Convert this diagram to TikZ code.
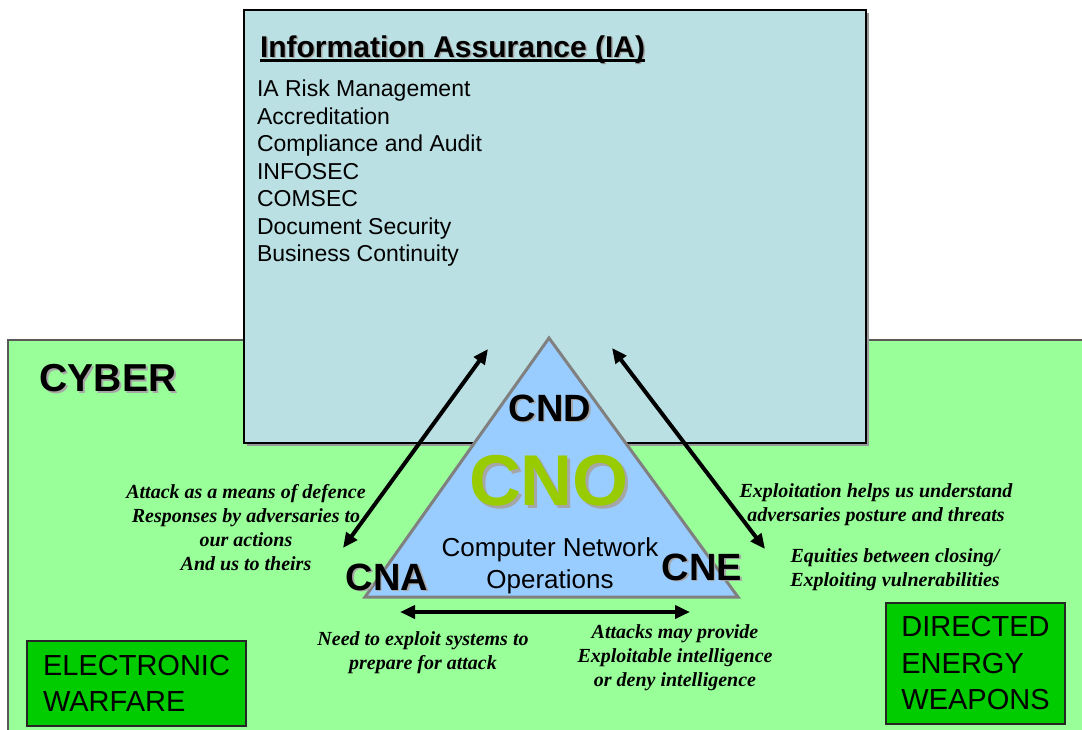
\documentclass[tikz,border=0pt]{standalone}
\usepackage{fontspec}
\setmainfont{Liberation Sans}
\newfontfamily\notefont{Liberation Serif}
\usetikzlibrary{arrows.meta}
\definecolor{cybergreen}{HTML}{99FF99}
\definecolor{iablue}{HTML}{BBE0E3}
\definecolor{cnoblue}{HTML}{99CCFF}
\definecolor{cnogreen}{HTML}{99CC00}
\definecolor{fieldgreen}{HTML}{00CC00}
\newcommand{\shadowed}[2][2pt]{\makebox[0pt][l]{\kern#1\raisebox{-#1}{\textcolor{black!35}{#2}}}#2}
\tikzset{
  every node/.style={inner sep=0pt, outer sep=0pt},
  heading/.style={font=\bfseries\fontsize{38}{38}\selectfont},
  note/.style={font=\notefont\bfseries\itshape\fontsize{20}{24}\selectfont, align=center, anchor=north},
  field/.style={draw=black!85, line width=1.5pt, fill=fieldgreen, align=left,
    font=\fontsize{29}{36.5}\selectfont},
  link/.style={line width=4pt, {Triangle[length=15pt,width=13pt]}-{Triangle[length=15pt,width=13pt]}}
}

\begin{document}
\begin{tikzpicture}[x=1pt, y=-1pt]
  \useasboundingbox (0,0) rectangle (1082,729);
  \draw[draw=black!65, line width=2pt, fill=cybergreen] (8,340) rectangle (1092,739);
  \fill[black!40] (247,13) rectangle (869,446);
  \draw[line width=1.5pt, fill=iablue] (244,10) rectangle (866,443);

  \node (ia) [anchor=base west, font=\bfseries\fontsize{30}{30}\selectfont] at (260,57) {\shadowed[1.5pt]{Information Assurance (IA)}};
  \draw[line width=2.5pt] ([yshift=-3.5pt]ia.base west) -- ([yshift=-3.5pt]ia.base east);
  \node (ialist) [anchor=north west, align=left, font=\fontsize{23}{27.5}\selectfont] at (257,80) {IA Risk Management\\Accreditation\\Compliance and Audit\\INFOSEC\\COMSEC\\Document Security\\Business Continuity};

  \node (cyber) [font=\bfseries\fontsize{39}{39}\selectfont] at (108,379) {\shadowed{CYBER}};

  \coordinate (apex) at (549,338);
  \coordinate (baseL) at (365,597);
  \coordinate (baseR) at (738,597);
  \draw[draw=black!50, line width=3pt, fill=cnoblue] (apex) -- (baseL) -- (baseR) -- cycle;

  \node (cnd) [heading] at (550,409) {\shadowed[1.5pt]{CND}};
  \node (cno) [font=\bfseries\fontsize{72}{72}\selectfont, text=cnogreen] at (549,482) {\shadowed[3pt]{CNO}};
  \node (cnolong) [align=center, font=\fontsize{26}{32}\selectfont] at (550,566) {Computer Network\\Operations};
  \node (cna) [heading] at (387,578) {\shadowed[1.5pt]{CNA}};
  \node (cne) [heading] at (702,568) {\shadowed[1.5pt]{CNE}};

  \coordinate (cnaEnd) at (343,548);
  \coordinate (iaLeft) at (488,349);
  \coordinate (iaRight) at (612,348);
  \coordinate (cneEnd) at (765,549);
  \coordinate (attackEnd) at (400,612);
  \coordinate (exploitEnd) at (690,612);
  \draw (cnaEnd) edge[link] (iaLeft);
  \draw (iaRight) edge[link] (cneEnd);
  \draw (attackEnd) edge[link] (exploitEnd);

  \node (defence) [note] at (246,484) {Attack as a means of defence\\Responses by adversaries to\\our actions\\And us to theirs};
  \node (posture) [note] at (876,484) {Exploitation helps us understand\\adversaries posture and threats};
  \node (equities) [note] at (895,549) {Equities between closing/\\Exploiting vulnerabilities};
  \node (prepare) [note] at (423,632) {Need to exploit systems to\\prepare for attack};
  \node (intel) [note] at (675,625) {Attacks may provide\\Exploitable intelligence\\or deny intelligence};

  \node (ew) [field, minimum width=219pt, minimum height=85pt] at (136.5,683.5) {ELECTRONIC\\WARFARE};
  \node (dew) [field, minimum width=179pt, minimum height=121pt] at (975.5,663.5) {DIRECTED\\ENERGY\\WEAPONS};
\end{tikzpicture}
\end{document}
